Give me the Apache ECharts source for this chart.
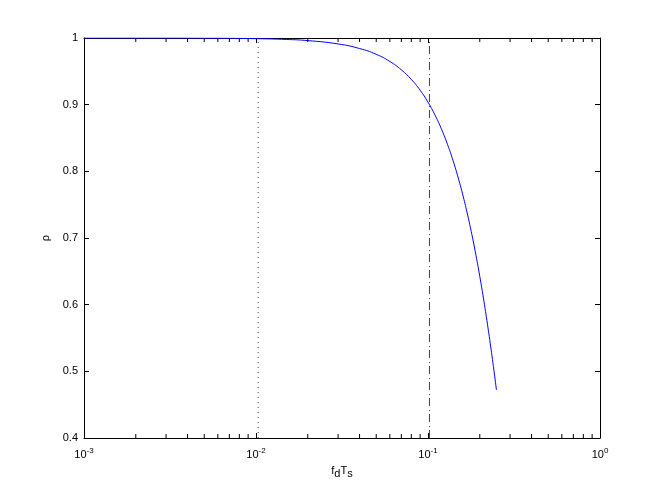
<!DOCTYPE html>
<html lang="en">
<head>
    <meta charset="UTF-8">
    <title>rho vs fdTs</title>
    <script src="https://cdn.jsdelivr.net/npm/echarts@6/dist/echarts.min.js"></script>
    <style>
        html, body { margin: 0; padding: 0; background: #fff; }
        #main { width: 664px; height: 491px; }
    </style>
</head>
<body>
<div id="main"></div>
<script>
    // curve
    var fdTs = [0.001, 0.002, 0.005, 0.01, 0.015, 0.02, 0.03, 0.04, 0.05, 0.06, 0.07, 0.08, 0.09, 0.1,
                0.11, 0.12, 0.13, 0.14, 0.15, 0.16, 0.17, 0.18, 0.19, 0.2, 0.21, 0.22, 0.23, 0.24, 0.25];
    var rho = [1.0, 1.0, 0.9998, 0.999, 0.9978, 0.9961, 0.9911, 0.9842, 0.9755, 0.9648, 0.9522, 0.9378, 0.9217, 0.9037,
               0.8841, 0.8629, 0.84, 0.8157, 0.7899, 0.7628, 0.7345, 0.7049, 0.6742, 0.6425, 0.6098, 0.5764, 0.5422, 0.5074, 0.472];

    // vertical marker lines
    var dottedX = 0.0103;
    var dashDotX = 0.102;

    // minor ticks of the log axis
    var minorTicks = [0.002, 0.003, 0.004, 0.005, 0.006, 0.007, 0.008, 0.009,
                      0.02, 0.03, 0.04, 0.05, 0.06, 0.07, 0.08, 0.09,
                      0.2, 0.3, 0.4, 0.5, 0.6, 0.7, 0.8, 0.9];

    var yMin = 0.4, yMax = 1;
    var font = 'Liberation Sans, Arial, Helvetica, sans-serif';

    var myChart = echarts.init(document.getElementById('main'));

    var axisBase = {
        axisLine: { show: true, onZero: false, lineStyle: { color: '#000', width: 1 } },
        axisTick: { show: true, inside: true, length: 5, lineStyle: { color: '#000' } },
        splitLine: { show: false },
        minorTick: { show: false },
        minorSplitLine: { show: false }
    };

    myChart.setOption({
        animation: false,
        backgroundColor: '#fff',
        textStyle: { fontFamily: font },
        grid: { left: 84, right: 64, top: 38, bottom: 53, containLabel: false },
        xAxis: [
            Object.assign({
                type: 'log', logBase: 10, min: 0.001, max: 1, position: 'bottom',
                name: 'f{sub|d}T{sub|s}',
                nameLocation: 'middle',
                nameGap: 24,
                nameTextStyle: {
                    fontFamily: font, fontSize: 11, color: '#000',
                    rich: { sub: { fontFamily: font, fontSize: 11, color: '#000', verticalAlign: 'top', padding: [6, 0, 0, 0] } }
                },
                axisLabel: {
                    margin: 9,
                    fontFamily: font, fontSize: 11, color: '#000',
                    formatter: function (v) {
                        return '10{sup|' + Math.round(Math.log10(v)) + '}';
                    },
                    rich: { sup: { fontFamily: font, fontSize: 8, color: '#000', verticalAlign: 'bottom', padding: [0, 0, 7, 0] } }
                }
            }, axisBase),
            Object.assign({
                type: 'log', logBase: 10, min: 0.001, max: 1, position: 'top',
                axisLabel: { show: false }
            }, axisBase)
        ],
        yAxis: [
            Object.assign({
                type: 'value', min: yMin, max: yMax, interval: 0.1, position: 'left',
                name: 'ρ',
                nameLocation: 'middle',
                nameRotate: 90,
                nameGap: 27,
                nameTextStyle: { fontFamily: font, fontSize: 11, color: '#000' },
                axisLabel: { margin: 6, fontFamily: font, fontSize: 11, color: '#000' }
            }, axisBase),
            Object.assign({
                type: 'value', min: yMin, max: yMax, interval: 0.1, position: 'right',
                axisLabel: { show: false }
            }, axisBase)
        ],
        series: [
            {
                type: 'custom',
                xAxisIndex: 0, yAxisIndex: 0,
                silent: true,
                clip: false,
                data: minorTicks.map(function (v) { return [v, yMin]; }),
                encode: { x: 0, y: 1 },
                renderItem: function (params, api) {
                    var b = api.coord([api.value(0), yMin]);
                    var t = api.coord([api.value(0), yMax]);
                    var st = { stroke: '#000', lineWidth: 1 };
                    return {
                        type: 'group',
                        children: [
                            { type: 'line', shape: { x1: b[0], y1: b[1], x2: b[0], y2: b[1] - 4 }, style: st },
                            { type: 'line', shape: { x1: t[0], y1: t[1], x2: t[0], y2: t[1] + 4 }, style: st }
                        ]
                    };
                }
            },
            {
                type: 'line',
                silent: true,
                symbol: 'none',
                data: [[dottedX, yMin], [dottedX, yMax]],
                lineStyle: { color: '#444', width: 1, type: [1, 4] }
            },
            {
                type: 'line',
                silent: true,
                symbol: 'none',
                data: [[dashDotX, yMin], [dashDotX, yMax]],
                lineStyle: { color: '#444', width: 1, type: [8, 3, 1, 4] }
            },
            {
                type: 'line',
                silent: true,
                symbol: 'none',
                smooth: true,
                data: fdTs.map(function (x, i) { return [x, rho[i]]; }),
                lineStyle: { color: '#0000ff', width: 1 }
            }
        ]
    });
</script>
</body>
</html>
